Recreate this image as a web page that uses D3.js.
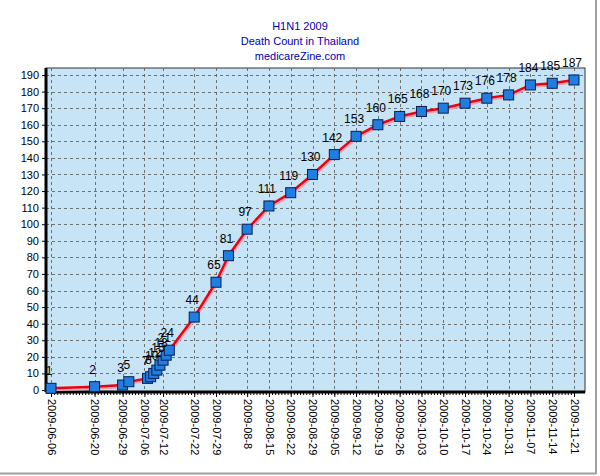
<!DOCTYPE html>
<html>
<head>
<meta charset="utf-8">
<script src="https://cdn.jsdelivr.net/npm/d3@7"></script>
<style>
  body { margin: 0; background: #fff; }
  svg { display: block; font-family: "Liberation Sans", Arial, sans-serif; }
</style>
</head>
<body>
<div id="chart"></div>
<script>
// data
var dates = ["2009-06-06","2009-06-20","2009-06-29","2009-07-01","2009-07-07","2009-07-08",
  "2009-07-09","2009-07-10","2009-07-11","2009-07-12","2009-07-13","2009-07-14",
  "2009-07-22","2009-07-29","2009-08-02","2009-08-08","2009-08-15","2009-08-22",
  "2009-08-29","2009-09-05","2009-09-12","2009-09-19","2009-09-26","2009-10-03",
  "2009-10-10","2009-10-17","2009-10-24","2009-10-31","2009-11-07","2009-11-14","2009-11-21"];
var deaths = [1,2,3,5,7,8,10,12,15,18,21,24,44,65,81,97,111,119,130,142,153,160,165,168,170,173,176,178,184,185,187];

var tickLabels = ["2009-06-06","2009-06-20","2009-06-29","2009-07-06","2009-07-12","2009-07-22",
  "2009-07-29","2009-08-8","2009-08-15","2009-08-22","2009-08-29","2009-09-05","2009-09-12",
  "2009-09-19","2009-09-26","2009-10-03","2009-10-10","2009-10-17","2009-10-24","2009-10-31",
  "2009-11-07","2009-11-14","2009-11-21"];
var yTicks = d3.range(0, 191, 10);
var titleLines = ["H1N1 2009", "Death Count in Thailand", "medicareZine.com"];

function parse(s) {
  var p = s.split("-");
  return new Date(Date.UTC(+p[0], +p[1] - 1, +p[2]));
}

var width = 600, height = 476;
var plot = {left: 46, right: 585, top: 68, bottom: 392};

var svg = d3.select("#chart").append("svg")
  .attr("width", width)
  .attr("height", height);

// outer frame (right + bottom grey edge)
svg.append("line").attr("x1", 0).attr("x2", 596).attr("y1", 473.5).attr("y2", 473.5)
  .attr("stroke", "#a0a0a0").attr("stroke-width", 2);
svg.append("line").attr("x1", 596).attr("x2", 596).attr("y1", 0).attr("y2", 474)
  .attr("stroke", "#a0a0a0").attr("stroke-width", 2);

var x = d3.scaleUtc()
  .domain([parse("2009-06-06"), parse("2009-11-21")])
  .range([51, 574]);
var y = d3.scaleLinear()
  .domain([0, 190])
  .range([390, 75]);

// title
svg.selectAll("text.title")
  .data(titleLines)
  .enter().append("text")
  .attr("class", "title")
  .attr("x", 300)
  .attr("y", function(d, i) { return 30 + i * 15; })
  .attr("text-anchor", "middle")
  .attr("fill", "#0000b0")
  .style("font-size", "11px")
  .text(function(d) { return d; });

// plot background
svg.append("rect")
  .attr("x", plot.left).attr("y", plot.top)
  .attr("width", plot.right - plot.left).attr("height", plot.bottom - plot.top)
  .attr("fill", "#c6e4f6")
  .attr("stroke", "#333").attr("stroke-width", 1);

// grid
svg.append("g").selectAll("line")
  .data(yTicks.slice(1))
  .enter().append("line")
  .attr("x1", plot.left).attr("x2", plot.right)
  .attr("y1", function(d) { return Math.round(y(d)) + 0.5; })
  .attr("y2", function(d) { return Math.round(y(d)) + 0.5; })
  .attr("stroke", "#555").attr("stroke-dasharray", "3,3").attr("stroke-width", 0.8);

svg.append("g").selectAll("line")
  .data(tickLabels)
  .enter().append("line")
  .attr("x1", function(d) { return Math.round(x(parse(d))) + 0.5; })
  .attr("x2", function(d) { return Math.round(x(parse(d))) + 0.5; })
  .attr("y1", plot.top).attr("y2", plot.bottom)
  .attr("stroke", "#555").attr("stroke-dasharray", "3,3").attr("stroke-width", 0.8);

// axes
var yAxis = svg.append("g")
  .attr("transform", "translate(" + plot.left + ",0)")
  .call(d3.axisLeft(y).tickValues(yTicks).tickSize(4).tickPadding(3));
yAxis.select(".domain").attr("stroke", "#000").attr("stroke-width", 3)
  .attr("d", "M0," + plot.top + "V" + plot.bottom);
yAxis.selectAll("text").style("font-size", "11px").attr("fill", "#000");

var xMinor = svg.append("g")
  .attr("transform", "translate(0," + plot.bottom + ")")
  .call(d3.axisBottom(x).ticks(d3.utcDay.every(1)).tickSize(3).tickFormat(""));
xMinor.select(".domain").remove();

var xAxis = svg.append("g")
  .attr("transform", "translate(0," + plot.bottom + ")")
  .call(d3.axisBottom(x)
    .tickValues(tickLabels.map(parse))
    .tickSize(5)
    .tickFormat(function(d, i) { return tickLabels[i]; }));
xAxis.select(".domain").attr("stroke", "#000").attr("stroke-width", 3)
  .attr("d", "M" + plot.left + ",0H" + plot.right);
xAxis.selectAll("text")
  .style("font-size", "11px").attr("fill", "#000")
  .attr("text-anchor", "start")
  .attr("transform", "rotate(90)")
  .attr("x", 7).attr("y", 0).attr("dy", "0.35em");

// line
var pts = dates.map(function(d, i) { return {date: parse(d), value: deaths[i]}; });
var line = d3.line()
  .x(function(d) { return x(d.date); })
  .y(function(d) { return y(d.value); });

svg.append("path").datum(pts)
  .attr("d", line)
  .attr("fill", "none")
  .attr("stroke", "#f4a0b0").attr("stroke-width", 2)
  .attr("transform", "translate(1,2)");
svg.append("path").datum(pts)
  .attr("d", line)
  .attr("fill", "none")
  .attr("stroke", "#ee0010").attr("stroke-width", 2.5);

// markers
svg.append("g").selectAll("rect")
  .data(pts)
  .enter().append("rect")
  .attr("x", function(d) { return x(d.date) - 5; })
  .attr("y", function(d) { return y(d.value) - 5; })
  .attr("width", 10).attr("height", 10)
  .attr("fill", "#1f7ee0")
  .attr("stroke", "#0a1e50").attr("stroke-width", 1);

// value labels
svg.append("g").selectAll("text")
  .data(pts)
  .enter().append("text")
  .attr("x", function(d) { return x(d.date) - 2; })
  .attr("y", function(d) { return y(d.value) - 13; })
  .attr("text-anchor", "middle")
  .attr("fill", "#000")
  .style("font-size", "12px")
  .text(function(d) { return d.value; });
</script>
</body>
</html>
